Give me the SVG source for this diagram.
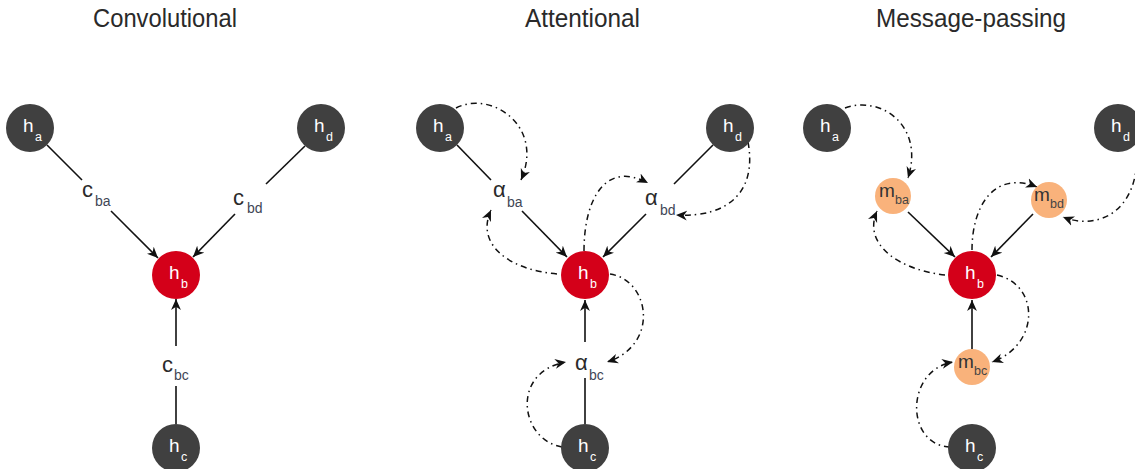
<svg xmlns="http://www.w3.org/2000/svg" width="1135" height="469" viewBox="0 0 1135 469">
<style>
.title{font-family:"Liberation Sans",Arial,sans-serif;font-size:25px;fill:#2a2a2a}
.dark{fill:#404040}
.red{fill:#d40019}
.orange{fill:#f9b27b}
.nh{font-family:"Liberation Sans",Arial,sans-serif;font-size:19px;fill:#fff}
.ns{font-family:"Liberation Sans",Arial,sans-serif;font-size:12.5px;fill:#fff}
.mh{font-family:"Liberation Sans",Arial,sans-serif;font-size:19px;fill:#333}
.ms{font-family:"Liberation Sans",Arial,sans-serif;font-size:12.5px;fill:#444}
.lb{font-family:"Liberation Sans",Arial,sans-serif;font-size:22px;fill:#2a2a2a}
.ls{font-family:"Liberation Sans",Arial,sans-serif;font-size:14px;fill:#3f4656}
.solid{fill:none;stroke:#111;stroke-width:1.6}
.dash{fill:none;stroke:#111;stroke-width:1.5;stroke-dasharray:6 4 1.5 4}
</style>
<defs>
<marker id="arr" viewBox="0 0 10 10" refX="10" refY="5" markerWidth="11" markerHeight="11" markerUnits="userSpaceOnUse" orient="auto">
<path d="M0,0.5 L10,5 L0,9.5 L3,5 z" fill="#111"/>
</marker>
</defs>

<text class="title" x="93" y="27" textLength="144" lengthAdjust="spacingAndGlyphs">Convolutional</text>
<text class="title" x="525" y="27" textLength="115" lengthAdjust="spacingAndGlyphs">Attentional</text>
<text class="title" x="876" y="27" textLength="190" lengthAdjust="spacingAndGlyphs">Message-passing</text>

<g id="connectors">
<!-- panel 1 -->
<line class="solid" x1="47" y1="145" x2="82" y2="180"/>
<line class="solid" x1="111" y1="211" x2="158" y2="258" marker-end="url(#arr)"/>
<line class="solid" x1="305" y1="146" x2="266" y2="184"/>
<line class="solid" x1="235" y1="214" x2="193" y2="257" marker-end="url(#arr)"/>
<line class="solid" x1="176" y1="424" x2="176" y2="386"/>
<line class="solid" x1="176" y1="346" x2="176" y2="299" marker-end="url(#arr)"/>
<!-- panel 2 -->
<line class="solid" x1="457" y1="145" x2="491" y2="180"/>
<line class="solid" x1="522" y1="211" x2="567" y2="257" marker-end="url(#arr)"/>
<line class="solid" x1="713" y1="145" x2="674" y2="184"/>
<line class="solid" x1="646" y1="214" x2="603" y2="257" marker-end="url(#arr)"/>
<line class="solid" x1="585" y1="424" x2="585" y2="378"/>
<line class="solid" x1="585" y1="342" x2="585" y2="300" marker-end="url(#arr)"/>
<path class="dash" d="M456,108 C490,90 545,125 521,180" marker-end="url(#arr)"/>
<path class="dash" d="M557,274 C510,270 475,245 491,210" marker-end="url(#arr)"/>
<path class="dash" d="M584,251 C584,200 605,160 648,183" marker-end="url(#arr)"/>
<path class="dash" d="M748,142 C757,190 730,218 676,215" marker-end="url(#arr)"/>
<path class="dash" d="M610,274 C650,280 660,345 607,362" marker-end="url(#arr)"/>
<path class="dash" d="M562,447 C520,440 510,372 566,362" marker-end="url(#arr)"/>
<!-- panel 3 -->
<line class="solid" x1="908" y1="212" x2="955" y2="257" marker-end="url(#arr)"/>
<line class="solid" x1="1033" y1="214" x2="991" y2="257" marker-end="url(#arr)"/>
<line class="solid" x1="972" y1="349" x2="972" y2="300" marker-end="url(#arr)"/>
<path class="dash" d="M845,108 C880,95 925,125 908,178" marker-end="url(#arr)"/>
<path class="dash" d="M945,275 C900,270 862,245 877,211" marker-end="url(#arr)"/>
<path class="dash" d="M972,250 C972,205 995,170 1037,187" marker-end="url(#arr)"/>
<path class="dash" d="M1137,148 C1140,215 1095,230 1063,217" marker-end="url(#arr)"/>
<path class="dash" d="M997,275 C1040,285 1040,345 992,362" marker-end="url(#arr)"/>
<path class="dash" d="M950,447 C905,445 905,370 953,362" marker-end="url(#arr)"/>
</g>

<!-- panel 1 nodes -->
<g id="p1-ha"><circle class="dark" cx="30" cy="128" r="24"/><text class="nh" x="23" y="132">h</text><text class="ns" x="35" y="141">a</text></g>
<g id="p1-hd"><circle class="dark" cx="321" cy="128" r="24"/><text class="nh" x="314" y="132">h</text><text class="ns" x="326" y="141">d</text></g>
<g id="p1-hb"><circle class="red" cx="176" cy="275" r="24"/><text class="nh" x="169" y="279">h</text><text class="ns" x="181" y="288">b</text></g>
<g id="p1-hc"><circle class="dark" cx="176" cy="448" r="24"/><text class="nh" x="169" y="452">h</text><text class="ns" x="181" y="461">c</text></g>
<g id="p1-cba"><text class="lb" x="82" y="197">c</text><text class="ls" x="95" y="206">ba</text></g>
<g id="p1-cbd"><text class="lb" x="233" y="205">c</text><text class="ls" x="247" y="213">bd</text></g>
<g id="p1-cbc"><text class="lb" x="162" y="372">c</text><text class="ls" x="174" y="380">bc</text></g>

<!-- panel 2 nodes -->
<g id="p2-ha"><circle class="dark" cx="440" cy="128" r="24"/><text class="nh" x="433" y="132">h</text><text class="ns" x="445" y="141">a</text></g>
<g id="p2-hd"><circle class="dark" cx="730" cy="128" r="24"/><text class="nh" x="723" y="132">h</text><text class="ns" x="735" y="141">d</text></g>
<g id="p2-hb"><circle class="red" cx="585" cy="275" r="24"/><text class="nh" x="578" y="279">h</text><text class="ns" x="590" y="288">b</text></g>
<g id="p2-hc"><circle class="dark" cx="585" cy="448" r="24"/><text class="nh" x="578" y="452">h</text><text class="ns" x="590" y="461">c</text></g>
<g id="p2-aba"><text class="lb" x="493" y="197">α</text><text class="ls" x="507" y="207">ba</text></g>
<g id="p2-abd"><text class="lb" x="645" y="205">α</text><text class="ls" x="660" y="215">bd</text></g>
<g id="p2-abc"><text class="lb" x="575" y="370">α</text><text class="ls" x="589" y="380">bc</text></g>

<!-- panel 3 nodes -->
<g id="p3-ha"><circle class="dark" cx="827" cy="128" r="24"/><text class="nh" x="820" y="132">h</text><text class="ns" x="832" y="141">a</text></g>
<g id="p3-hd"><circle class="dark" cx="1118" cy="128" r="24"/><text class="nh" x="1111" y="132">h</text><text class="ns" x="1123" y="141">d</text></g>
<g id="p3-hb"><circle class="red" cx="972" cy="275" r="24"/><text class="nh" x="965" y="279">h</text><text class="ns" x="977" y="288">b</text></g>
<g id="p3-hc"><circle class="dark" cx="972" cy="448" r="24"/><text class="nh" x="965" y="452">h</text><text class="ns" x="977" y="461">c</text></g>
<g id="p3-mba"><circle class="orange" cx="893" cy="196" r="18"/><text class="mh" x="879" y="197">m</text><text class="ms" x="895" y="204">ba</text></g>
<g id="p3-mbd"><circle class="orange" cx="1049" cy="200" r="18"/><text class="mh" x="1034" y="201">m</text><text class="ms" x="1050" y="208">bd</text></g>
<g id="p3-mbc"><circle class="orange" cx="972" cy="367" r="18"/><text class="mh" x="958" y="368">m</text><text class="ms" x="974" y="375">bc</text></g>
</svg>
